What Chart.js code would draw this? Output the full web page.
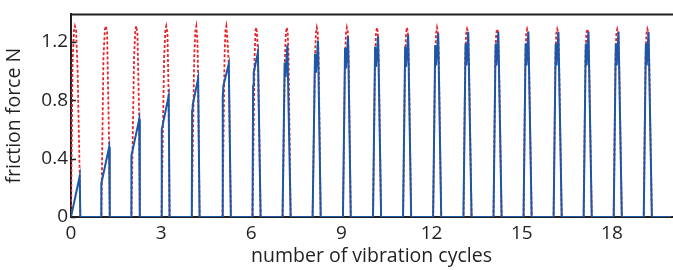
<!DOCTYPE html>
<html>
<head>
<meta charset="utf-8">
<script src="https://cdn.jsdelivr.net/npm/chart.js@4/dist/chart.umd.min.js"></script>
<style>
  html, body { margin: 0; padding: 0; background: #fff; }
  #wrap { width: 673px; height: 270px; position: relative; }
</style>
</head>
<body>
<div id="wrap"><canvas id="friction-canvas"></canvas></div>
<script>
// friction force per vibration cycle
const xTicks = [0, 3, 6, 9, 12, 15, 18];
const yTicks = [0, 0.4, 0.8, 1.2];

// blue solid trace
const blueX = [
  0, 0.29, 0.31,
  1.01, 1.01, 1.27, 1.29,
  2.01, 2.01, 2.27, 2.29,
  3.01, 3.02, 3.25, 3.28,
  4.02, 4.03, 4.05, 4.23, 4.28,
  5.04, 5.05, 5.07, 5.25, 5.32,
  6.04, 6.06, 6.08, 6.22, 6.31,
  7.04, 7.11, 7.14, 7.2, 7.31,
  8.04, 8.12, 8.15, 8.22, 8.31,
  9.05, 9.12, 9.15, 9.22, 9.31,
  10.05, 10.12, 10.15, 10.22, 10.32,
  11.05, 11.12, 11.15, 11.22, 11.32,
  12.05, 12.12, 12.15, 12.22, 12.32,
  13.06, 13.13, 13.16, 13.22, 13.33,
  14.06, 14.13, 14.16, 14.22, 14.33,
  15.06, 15.13, 15.16, 15.22, 15.33,
  16.06, 16.13, 16.16, 16.22, 16.33,
  17.06, 17.13, 17.16, 17.22, 17.33,
  18.06, 18.13, 18.16, 18.22, 18.33,
  19.06, 19.13, 19.16, 19.22, 19.33,
  19.95
];
const blueY = [
  0, 0.28, 0,
  0, 0.23, 0.48, 0,
  0, 0.42, 0.67, 0,
  0, 0.60, 0.83, 0,
  0, 0.73, 0.77, 0.95, 0,
  0, 0.82, 0.90, 1.05, 0,
  0, 0.90, 0.99, 1.13, 0,
  0, 1.06, 0.96, 1.18, 0,
  0, 1.12, 0.99, 1.21, 0,
  0, 1.16, 1.02, 1.24, 0,
  0, 1.17, 1.03, 1.24, 0,
  0, 1.17, 1.03, 1.25, 0,
  0, 1.18, 1.04, 1.26, 0,
  0, 1.19, 1.04, 1.27, 0,
  0, 1.19, 1.04, 1.27, 0,
  0, 1.19, 1.04, 1.27, 0,
  0, 1.19, 1.04, 1.27, 0,
  0, 1.19, 1.04, 1.27, 0,
  0, 1.19, 1.04, 1.27, 0,
  0, 1.19, 1.04, 1.27, 0,
  0
];

// red dotted trace
const redX = [
  0, 0.05, 0.1, 0.13, 0.17, 0.22, 0.29, 0.31,
  1.01, 1.08, 1.13, 1.16, 1.2, 1.27, 1.29,
  2.01, 2.1, 2.14, 2.17, 2.21, 2.27, 2.29,
  3.01, 3.1, 3.14, 3.17, 3.21, 3.25, 3.28,
  4.02, 4.1, 4.14, 4.17, 4.21, 4.23, 4.28,
  5.04, 5.11, 5.14, 5.17, 5.21, 5.25, 5.32,
  6.04, 6.11, 6.14, 6.17, 6.2, 6.22, 6.31,
  7.04, 7.12, 7.15, 7.18, 7.21, 7.24, 7.31,
  8.04, 8.12, 8.15, 8.18, 8.21, 8.24, 8.31,
  9.05, 9.12, 9.15, 9.18, 9.21, 9.24, 9.31,
  10.05, 10.12, 10.15, 10.18, 10.21, 10.24, 10.32,
  11.05, 11.12, 11.15, 11.18, 11.21, 11.24, 11.32,
  12.05, 12.12, 12.15, 12.18, 12.21, 12.24, 12.32,
  13.06, 13.12, 13.15, 13.18, 13.21, 13.24, 13.33,
  14.06, 14.12, 14.15, 14.18, 14.21, 14.24, 14.33,
  15.06, 15.12, 15.15, 15.18, 15.21, 15.24, 15.33,
  16.06, 16.12, 16.15, 16.18, 16.21, 16.24, 16.33,
  17.06, 17.12, 17.15, 17.18, 17.21, 17.24, 17.33,
  18.06, 18.12, 18.15, 18.18, 18.21, 18.24, 18.33,
  19.06, 19.12, 19.15, 19.18, 19.21, 19.24, 19.33,
  20
];
const redY = [
  0, 1.05, 1.28, 1.31, 1.28, 1.0, 0.28, 0,
  0, 1.1, 1.29, 1.31, 1.27, 0.48, 0,
  0, 1.1, 1.28, 1.31, 1.26, 0.67, 0,
  0, 1.1, 1.28, 1.31, 1.26, 0.83, 0,
  0, 1.1, 1.28, 1.31, 1.2, 0.95, 0,
  0, 1.1, 1.28, 1.31, 1.2, 1.05, 0,
  0, 1.1, 1.28, 1.30, 1.22, 1.13, 0,
  0, 1.1, 1.26, 1.30, 1.27, 1.1, 0,
  0, 1.1, 1.26, 1.30, 1.27, 1.1, 0,
  0, 1.1, 1.26, 1.30, 1.27, 1.1, 0,
  0, 1.1, 1.26, 1.30, 1.27, 1.1, 0,
  0, 1.1, 1.26, 1.30, 1.27, 1.1, 0,
  0, 1.1, 1.26, 1.30, 1.27, 1.1, 0,
  0, 1.1, 1.26, 1.29, 1.27, 1.1, 0,
  0, 1.1, 1.26, 1.29, 1.27, 1.1, 0,
  0, 1.1, 1.26, 1.29, 1.27, 1.1, 0,
  0, 1.1, 1.26, 1.29, 1.27, 1.1, 0,
  0, 1.1, 1.26, 1.29, 1.27, 1.1, 0,
  0, 1.1, 1.26, 1.29, 1.27, 1.1, 0,
  0, 1.1, 1.26, 1.29, 1.27, 1.1, 0,
  0
];

const ink = '#231f20';
const blue = '#1d57a7';
const red = '#e8262b';

function toPoints(xs, ys) {
  return xs.map((x, i) => ({x: x, y: ys[i]}));
}

// inward tick marks and the top frame line, like the matlab box
const frame = {
  id: 'frame',
  afterDraw(chart) {
    const ctx = chart.ctx;
    const area = chart.chartArea;
    const ys = chart.scales.y;
    ctx.save();
    ctx.strokeStyle = ink;
    ctx.lineWidth = 2;
    ctx.beginPath();
    ctx.moveTo(area.left - 1, area.top);
    ctx.lineTo(area.right + 1, area.top);
    ctx.stroke();
    ctx.lineWidth = 1.5;
    ctx.beginPath();
    yTicks.forEach(v => {
      const py = Math.round(ys.getPixelForValue(v)) + 0.5;
      ctx.moveTo(area.left, py);
      ctx.lineTo(area.left + 5, py);
    });
    ctx.stroke();
    ctx.restore();
  }
};

document.addEventListener('DOMContentLoaded', function() {
  const ctx = document.getElementById('friction-canvas');
  new Chart(ctx, {
    type: 'line',
    data: {
      datasets: [
        {
          label: 'blue',
          data: toPoints(blueX, blueY),
          borderColor: blue,
          borderWidth: 2,
          pointRadius: 0,
          tension: 0,
          order: 0
        },
        {
          label: 'red',
          data: toPoints(redX, redY),
          borderColor: red,
          borderWidth: 1.8,
          borderDash: [3, 2],
          pointRadius: 0,
          tension: 0,
          order: 1
        }
      ]
    },
    options: {
      responsive: true,
      maintainAspectRatio: false,
      animation: false,
      layout: { padding: { top: 8, right: 1, left: 0, bottom: 0 } },
      plugins: {
        legend: { display: false },
        tooltip: { enabled: false }
      },
      scales: {
        x: {
          type: 'linear',
          min: 0,
          max: 20,
          afterBuildTicks: (axis) => { axis.ticks = xTicks.map(v => ({value: v})); },
          afterFit: (axis) => { axis.height = 53; },
          border: { display: true, color: ink, width: 2 },
          grid: { display: false, drawTicks: false },
          ticks: {
            color: ink,
            padding: 5,
            maxRotation: 0,
            font: { family: 'Open Sans', size: 19 }
          },
          title: {
            display: true,
            text: 'number of vibration cycles',
            color: ink,
            padding: { top: 0, bottom: 2 },
            font: { family: 'Open Sans', size: 19.5 }
          }
        },
        y: {
          type: 'linear',
          min: 0,
          max: 1.39,
          afterBuildTicks: (axis) => { axis.ticks = yTicks.map(v => ({value: v})); },
          afterFit: (axis) => { axis.width = 71; },
          border: { display: true, color: ink, width: 2 },
          grid: { display: false, drawTicks: false },
          ticks: {
            color: ink,
            padding: 3,
            font: { family: 'Open Sans', size: 19 }
          },
          title: {
            display: true,
            text: 'friction force N',
            color: ink,
            padding: { top: 3, bottom: 0 },
            font: { family: 'Open Sans', size: 19.5 }
          }
        }
      }
    },
    plugins: [frame]
  });
});
</script>
</body>
</html>
